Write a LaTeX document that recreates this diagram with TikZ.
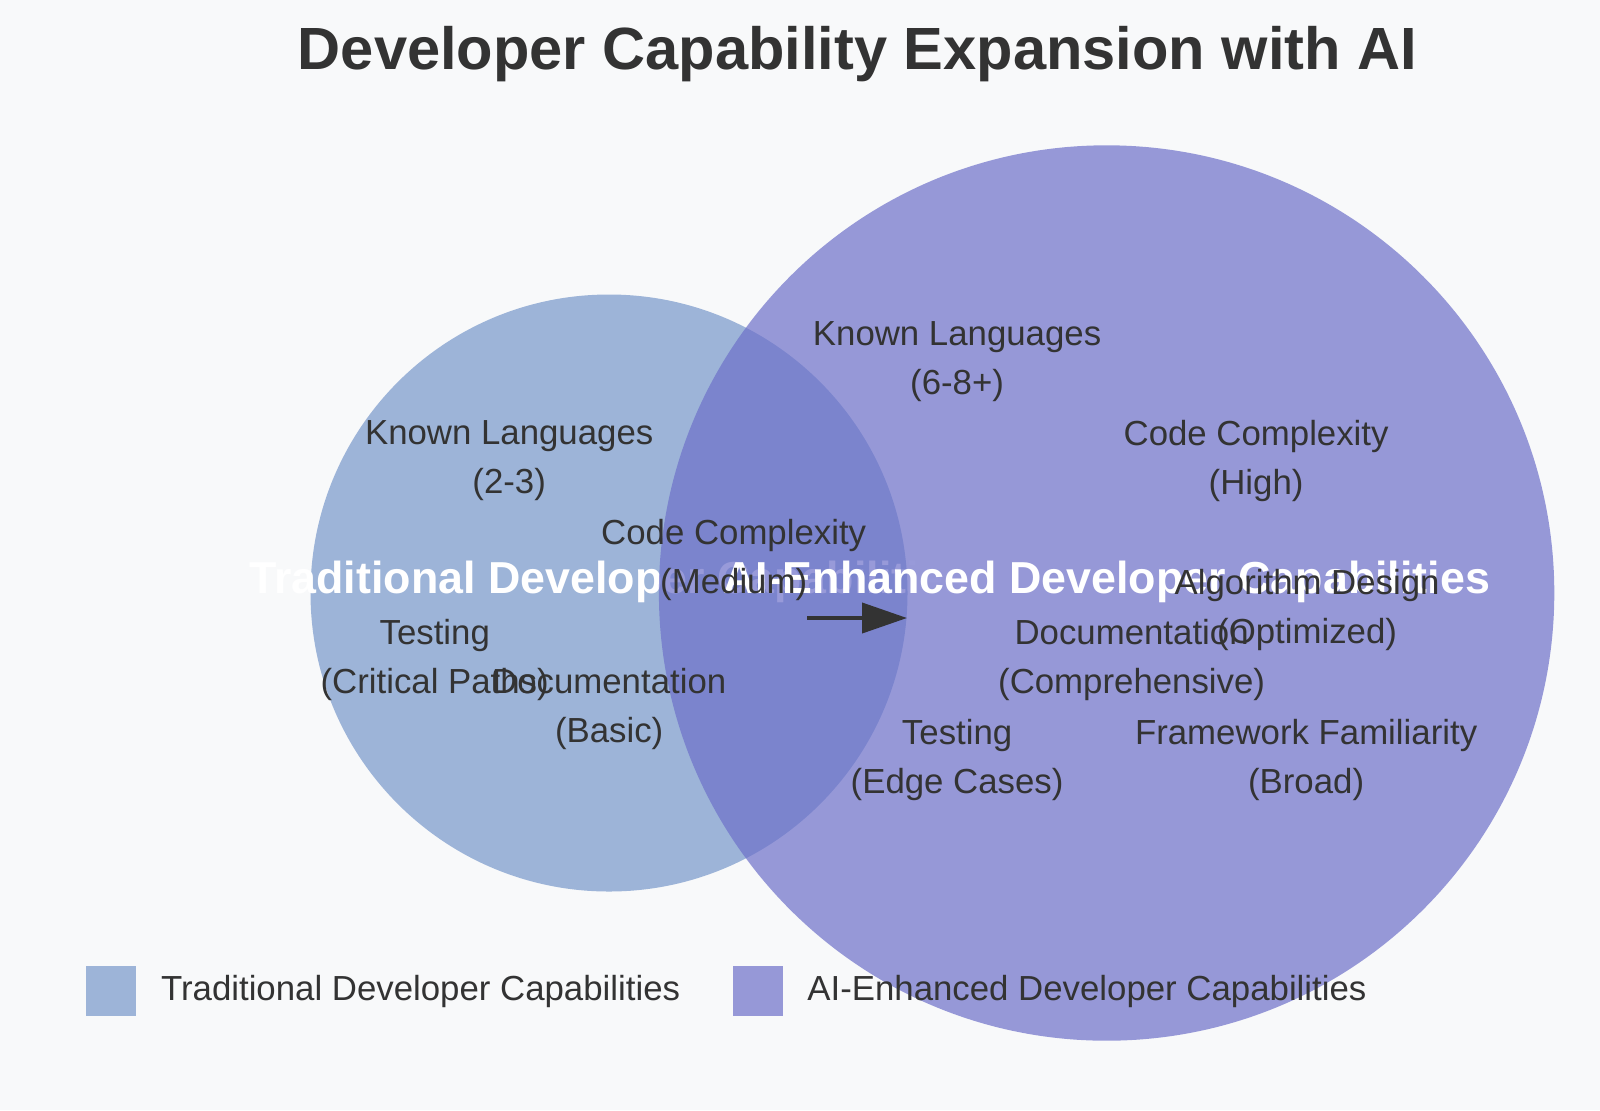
\documentclass[tikz,border=0pt]{standalone}
\usepackage{fontspec}
\setmainfont{Liberation Sans}
\usepackage{xcolor}
\usetikzlibrary{arrows.meta,positioning}
\definecolor{pagebg}{HTML}{F8F9FA}
\definecolor{inkgray}{HTML}{333333}
\definecolor{tradblue}{RGB}{157,180,216}
\definecolor{aiviolet}{RGB}{109,112,201}

\begin{document}
\begin{tikzpicture}[x=0.5pt,y=-0.5pt,
  item/.style={align=center,inner sep=0pt,text=inkgray,font=\fontsize{17.4}{24.5}\selectfont},
  settitle/.style={anchor=base,inner sep=0pt,text=white,text opacity=1,font=\bfseries\fontsize{22.4}{26}\selectfont},
  legkey/.style={minimum size=25pt,inner sep=0pt}]
  \fill[pagebg] (0,0) rectangle (1600,1110);
  \useasboundingbox (0,0) rectangle (1600,1110);
  \node[anchor=base,inner sep=0pt,text=inkgray,font=\bfseries\fontsize{29.8}{34}\selectfont] (title) at (857.6,69.4)
    {Developer Capability Expansion with AI};
  % the two sets
  \node[circle,fill=tradblue,minimum size=298.5pt,inner sep=0pt] (trad) at (609,593) {};
  \node[settitle] (tradlbl) at (trad.center) {Traditional Developer Capabilities};
  \node[circle,fill=aiviolet,fill opacity=0.7,minimum size=447.7pt,inner sep=0pt] (aienh) at (1106.6,593) {};
  \node[settitle] (ailbl) at (aienh.center) {AI-Enhanced Developer Capabilities};
  \coordinate (arrS) at (807,618);
  \coordinate (arrE) at (907,618);
  \draw[-{Triangle[length=22.5pt,width=15pt]},line width=2pt,inkgray] (arrS) -- (arrE);
  \foreach \nm/\px/\py/\txt in {
      tkl/509.2/460.7/{Known Languages\\(2-3)},
      tcc/733.7/559.6/{Code Complexity\\(Medium)},
      tts/434.7/659.6/{Testing\\(Critical Paths)},
      tdc/609.2/709.1/{Documentation\\(Basic)},
      akl/957.1/361.2/{Known Languages\\(6-8+)},
      acc/1256.1/460.7/{Code Complexity\\(High)},
      aal/1307.1/610.1/{Algorithm Design\\(Optimized)},
      adc/1131.6/659.6/{Documentation\\(Comprehensive)},
      ats/957.1/760.1/{Testing\\(Edge Cases)},
      aff/1306.1/760.1/{Framework Familiarity\\(Broad)}}{
    \node[item] (\nm) at (\px,\py) {\txt};
  }
  % legend
  \node[legkey,fill=tradblue] (keytrad) at (110.7,991.3) {};
  \node[item,right=12.3pt of keytrad] (legtrad) {Traditional Developer Capabilities};
  \node[legkey,fill=aiviolet,fill opacity=0.7] (keyai) at (757.6,991.3) {};
  \node[item,right=12pt of keyai] (legai) {AI-Enhanced Developer Capabilities};
\end{tikzpicture}
\end{document}
